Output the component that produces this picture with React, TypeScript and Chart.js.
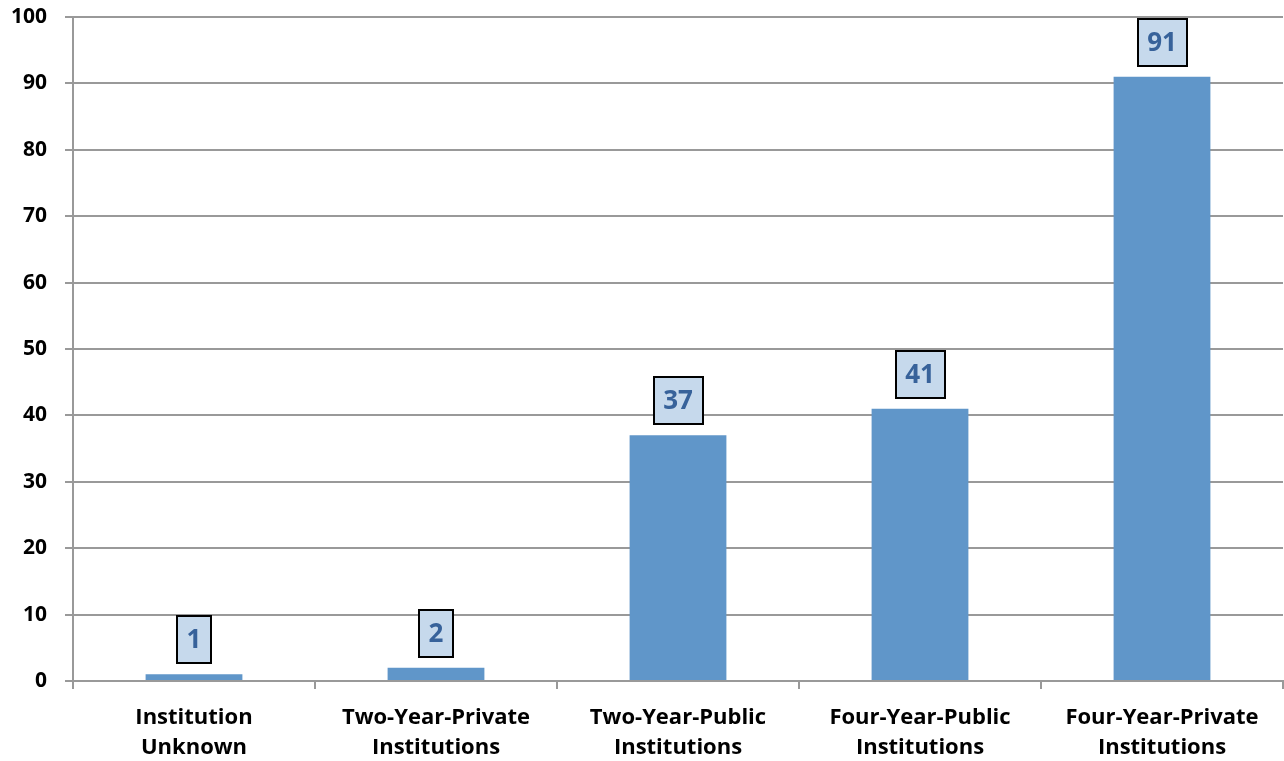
import React, { useEffect, useRef } from "react";
import { Chart, registerables } from "chart.js";

Chart.register(...registerables);

const categories: string[][] = [
  ["Institution", "Unknown"],
  ["Two-Year-Private", "Institutions"],
  ["Two-Year-Public", "Institutions"],
  ["Four-Year-Public", "Institutions"],
  ["Four-Year-Private", "Institutions"],
];
const values: number[] = [1, 2, 37, 41, 91];
const yMin = 0;
const yMax = 100;
const yStep = 10;

const FONT = "'Open Sans', 'Noto Sans', sans-serif";

const labelBoxPlugin = {
  id: "labelBoxes",
  afterDatasetsDraw(chart: any) {
    const ctx = chart.ctx;
    const meta = chart.getDatasetMeta(0);
    ctx.save();
    ctx.font = `bold 26px ${FONT}`;
    ctx.textAlign = "center";
    ctx.textBaseline = "middle";
    meta.data.forEach((bar: any, i: number) => {
      const txt = String(values[i]);
      const tw = ctx.measureText(txt).width;
      const w = Math.round(tw + 19);
      const h = 47;
      const x = Math.round(bar.x - w / 2);
      const y = Math.round(bar.y - 11 - h);
      ctx.fillStyle = "#C6D9EC";
      ctx.fillRect(x, y, w, h);
      ctx.lineWidth = 2;
      ctx.strokeStyle = "#000000";
      ctx.strokeRect(x, y, w, h);
      ctx.fillStyle = "#37629A";
      ctx.fillText(txt, bar.x, y + h / 2 + 1);
    });
    ctx.restore();
  },
};

export default function App() {
  const ref = useRef<HTMLCanvasElement | null>(null);
  useEffect(() => {
    document.body.style.margin = "0";
    const chart = new Chart(ref.current!, {
      type: "bar",
      data: {
        labels: categories,
        datasets: [
          {
            data: values,
            backgroundColor: "#6096C9",
            barPercentage: 0.4,
            categoryPercentage: 1,
          },
        ],
      },
      options: {
        animation: false,
        responsive: false,
        layout: { padding: { top: 17, right: 1, left: 0, bottom: 0 } },
        plugins: { legend: { display: false }, tooltip: { enabled: false } },
        scales: {
          x: {
            grid: {
              display: true,
              drawOnChartArea: false,
              drawTicks: true,
              tickLength: 8,
              color: "#999999",
              lineWidth: 2,
              offset: true,
            },
            border: { color: "#999999", width: 2 },
            ticks: {
              color: "#000000",
              font: { family: FONT, size: 22, weight: "bold", lineHeight: 1.35 },
              padding: 14,
              maxRotation: 0,
              autoSkip: false,
            },
            afterFit(scale: any) {
              scale.height = 80;
              scale.paddingLeft = 0;
              scale.paddingRight = 0;
            },
          },
          y: {
            min: yMin,
            max: yMax,
            ticks: {
              stepSize: yStep,
              color: "#000000",
              font: { family: FONT, size: 21, weight: "bold" },
              padding: 18,
            },
            grid: { color: "#999999", lineWidth: 2, tickLength: 8 },
            border: { color: "#999999", width: 2 },
            afterFit(scale: any) {
              scale.width = 73;
              scale.paddingTop = 0;
              scale.paddingBottom = 0;
            },
          },
        },
      },
      plugins: [labelBoxPlugin],
    });
    return () => chart.destroy();
  }, []);
  return (
    <div style={{ position: "absolute", left: 0, top: 0, width: 1284, height: 761 }}>
      <canvas ref={ref} width={1284} height={761} style={{ width: 1284, height: 761 }} />
    </div>
  );
}
